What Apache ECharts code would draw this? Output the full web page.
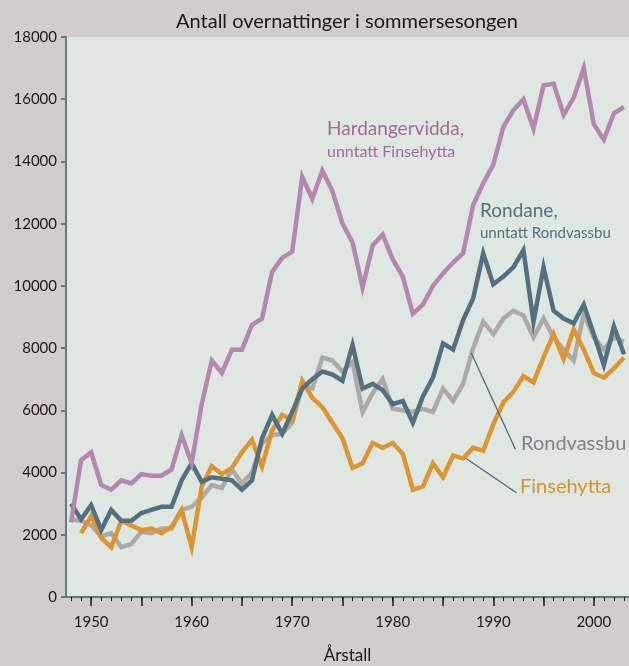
<!DOCTYPE html>
<html>
<head>
<meta charset="utf-8">
<script src="https://cdn.jsdelivr.net/npm/echarts@6/dist/echarts.min.js"></script>
<style>
  html, body { margin: 0; padding: 0; background: #d3ccc8; }
  #chart { width: 629px; height: 666px; }
</style>
</head>
<body>
<div id="chart"></div>
<script>
const years = [1948, 1949, 1950, 1951, 1952, 1953, 1954, 1955, 1956, 1957,
  1958, 1959, 1960, 1961, 1962, 1963, 1964, 1965, 1966, 1967,
  1968, 1969, 1970, 1971, 1972, 1973, 1974, 1975, 1976, 1977,
  1978, 1979, 1980, 1981, 1982, 1983, 1984, 1985, 1986, 1987,
  1988, 1989, 1990, 1991, 1992, 1993, 1994, 1995, 1996, 1997,
  1998, 1999, 2000, 2001, 2002, 2003]

const hardangervidda = [2400, 4400, 4650, 3600, 3450, 3750, 3650, 3950, 3900, 3900,
  4100, 5200, 4300, 6200, 7600, 7200, 7950, 7950, 8750, 8950,
  10450, 10900, 11100, 13500, 12800, 13700, 13050, 12000, 11400, 9950,
  11300, 11650, 10850, 10300, 9100, 9400, 10000, 10400, 10750, 11050,
  12600, 13300, 13900, 15100, 15650, 16000, 15050, 16450, 16500, 15500,
  16050, 17000, 15200, 14700, 15550, 15750]

const rondane = [3000, 2500, 2950, 2150, 2800, 2450, 2450, 2700, 2800, 2900,
  2900, 3750, 4300, 3700, 3850, 3800, 3750, 3450, 3750, 5100,
  5850, 5250, 5950, 6700, 7000, 7250, 7150, 6950, 8100, 6700,
  6850, 6650, 6200, 6300, 5600, 6450, 7050, 8150, 7950, 8900,
  9600, 11050, 10050, 10300, 10600, 11150, 8850, 10600, 9200, 8950,
  8800, 9400, 8450, 7450, 8700, 7800]

const rondvassbu = [2500, 2450, 2300, 1950, 2050, 1600, 1700, 2100, 2050, 2200,
  2200, 2800, 2900, 3200, 3600, 3500, 4100, 3650, 4000, 4950,
  5200, 5250, 5600, 6800, 6700, 7700, 7600, 7250, 7550, 5950,
  6550, 7000, 6050, 6000, 5950, 6050, 5950, 6700, 6300, 6850,
  8000, 8850, 8450, 8950, 9200, 9050, 8350, 8950, 8350, 7950,
  7600, 9100, 8350, 7950, 8350, 8200]

const finsehytta = [null, 2050, 2600, 1900, 1600, 2450, 2300, 2150, 2200, 2050,
  2250, 2800, 1600, 3550, 4200, 3950, 4150, 4650, 5050, 4200,
  5350, 5850, 5700, 6950, 6400, 6100, 5600, 5100, 4150, 4300,
  4950, 4800, 4950, 4600, 3450, 3550, 4300, 3850, 4550, 4450,
  4800, 4700, 5550, 6250, 6600, 7100, 6900, 7700, 8450, 7650,
  8600, 7950, 7200, 7050, 7350, 7700]

const decadeLabels = [1950, 1960, 1970, 1980, 1990, 2000]
const fiveYearTicks = [1950, 1955, 1960, 1965, 1970, 1975, 1980, 1985, 1990, 1995, 2000]

const font = 'Lato, "Open Sans", sans-serif'
const axisColor = '#5d7a8b'
const plain = (v) => String(v)

const pairs = (vals) => years.map((y, i) => [y, vals[i]])

const chart = echarts.init(document.getElementById('chart'))

const lineSeries = (name, vals, color, z) => ({
  type: 'line',
  name,
  data: pairs(vals),
  showSymbol: false,
  symbol: 'none',
  z,
  lineStyle: { color, width: 4.5, join: 'miter' },
  itemStyle: { color },
  animation: false,
})

const leader = (from, to) => ({
  silent: true,
  symbol: 'none',
  label: { show: false },
  lineStyle: { color: '#4f6b7b', width: 1.3, type: 'solid' },
  data: [[{ coord: from }, { coord: to }]],
})

const gray = lineSeries('Rondvassbu', rondvassbu, '#aea9a4', 2)
gray.markLine = leader([1987.8, 7850], [1992.2, 4750])
const orange = lineSeries('Finsehytta', finsehytta, '#dc9530', 3)
orange.markLine = leader([1987.3, 4450], [1992.3, 3350])

chart.setOption({
  backgroundColor: '#d3ccc8',
  animation: false,
  textStyle: { fontFamily: font },
  title: {
    text: 'Antall overnattinger i sommersesongen',
    left: 342,
    top: 7,
    textAlign: 'center',
    textStyle: { fontFamily: font, fontSize: 20, fontWeight: 'normal', color: '#1a1a1a' },
  },
  grid: {
    left: 66, right: 0, top: 37, bottom: 69,
    outerBoundsMode: 'none',
    containLabel: false,
    show: true, backgroundColor: '#dfe7e3', borderWidth: 0,
  },
  xAxis: [
    {
      type: 'value',
      min: 1947.5,
      max: 2003.5,
      name: 'Årstall',
      nameLocation: 'middle',
      nameGap: 50,
      nameTextStyle: { fontFamily: font, fontSize: 17, color: '#1a1a1a' },
      axisLine: { show: true, lineStyle: { color: axisColor, width: 2 } },
      axisTick: { show: true, customValues: years, length: 4, lineStyle: { color: '#1a1a1a', width: 1 } },
      axisLabel: {
        customValues: decadeLabels,
        formatter: plain,
        margin: 18,
        fontFamily: font, fontSize: 15, color: '#1a1a1a',
      },
      splitLine: { show: false },
    },
    {
      type: 'value',
      position: 'bottom',
      min: 1947.5,
      max: 2003.5,
      axisLine: { show: false },
      axisTick: { show: true, customValues: fiveYearTicks, length: 9, lineStyle: { color: '#1a1a1a', width: 1.5 } },
      axisLabel: { show: false },
      splitLine: { show: false },
    },
  ],
  yAxis: {
    type: 'value',
    min: 0,
    max: 18000,
    interval: 2000,
    axisLine: { show: true, lineStyle: { color: axisColor, width: 2 } },
    axisTick: { show: true, length: 5, lineStyle: { color: axisColor, width: 2 } },
    axisLabel: { margin: 9, formatter: plain, fontFamily: font, fontSize: 15, color: '#1a1a1a' },
    splitLine: { show: false },
  },
  series: [
    gray,
    orange,
    lineSeries('Rondane', rondane, '#53707f', 4),
    lineSeries('Hardangervidda', hardangervidda, '#b586b0', 5),
  ],
  graphic: [
    { type: 'text', left: 327, top: 119, style: { text: 'Hardangervidda,', fontFamily: font, fontSize: 19, fill: '#a4689d' } },
    { type: 'text', left: 327, top: 144, style: { text: 'unntatt Finsehytta', fontFamily: font, fontSize: 16, fill: '#a4689d' } },
    { type: 'text', left: 480, top: 201, style: { text: 'Rondane,', fontFamily: font, fontSize: 19, fill: '#52707f' } },
    { type: 'text', left: 480, top: 226, style: { text: 'unntatt Rondvassbu', fontFamily: font, fontSize: 15, fill: '#52707f' } },
    { type: 'text', left: 521, top: 434, style: { text: 'Rondvassbu', fontFamily: font, fontSize: 20, fill: '#7f8389' } },
    { type: 'text', left: 520, top: 477, style: { text: 'Finsehytta', fontFamily: font, fontSize: 20, fill: '#d9922b' } },
  ],
})
</script>
</body>
</html>
